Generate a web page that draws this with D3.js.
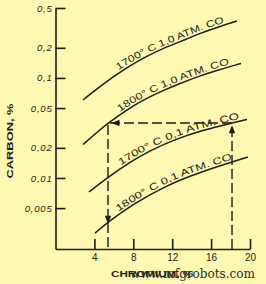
<!DOCTYPE html>
<html><head><meta charset="utf-8">
<script src="https://cdn.jsdelivr.net/npm/d3@7"></script>
<style>html,body{margin:0;padding:0;background:#fdf8b2;} svg{display:block;}</style>
</head><body><svg id="c" width="266" height="284"></svg>
<script>
// ---- data ----
const chromiumTicks = [4, 8, 12, 16, 20];
const carbonTicks = [0.5, 0.2, 0.1, 0.05, 0.02, 0.01, 0.005];
const carbonTickLabels = ["0,5", "0,2", "0,1", "0,05", "0,02", "0,01", "0,005"];
const seriesNames = ["1700° C 1,0 ATM. CO", "1800° C 1,0 ATM. CO", "1700° C 0,1 ATM. CO", "1800° C 0,1 ATM. CO"];
const cr1700_10 = [2.83, 4.37, 5.91, 7.66, 9.41, 11.05, 12.80, 14.65, 16.71, 18.66];
const c1700_10  = [0.0602, 0.0793, 0.1022, 0.1331, 0.1657, 0.1969, 0.2297, 0.2748, 0.3229, 0.3707];
const cr1800_10 = [2.83, 4.37, 5.40, 7.66, 9.41, 11.05, 12.80, 14.65, 16.71, 19.07];
const c1800_10  = [0.0216, 0.0292, 0.0354, 0.0506, 0.0630, 0.0749, 0.0880, 0.1033, 0.1201, 0.1394];
const cr1700_01 = [3.44, 5.40, 7.66, 9.72, 12.29, 14.86, 18.15, 19.69];
const c1700_01  = [0.00724, 0.01016, 0.01445, 0.01883, 0.02425, 0.02949, 0.0354, 0.03842];
const cr1800_01 = [4.06, 5.40, 7.97, 11.47, 14.86, 19.79];
const c1800_01  = [0.00281, 0.00362, 0.00548, 0.00849, 0.01146, 0.01618];
// worked example (dashed guide): chromium %, carbon %
const guideCr = [18.15, 18.15, 5.40, 5.40];
const guideC  = [0.00195, 0.0354, 0.0354, 0.00195];
const arrowCr = [5.75, 18.15, 5.40];
const arrowC  = [0.0354, 0.0337, 0.00348];
const arrowDir = ["left", "up", "down"];

// ---- chart ----
const ink = "#1e1c16";
const sans = "'Liberation Sans', Arial, sans-serif";
const svg = d3.select("#c");
const x = d3.scaleLinear().domain([0, 20]).range([55.5, 250]);
const y = d3.scaleLog().domain([0.00195, 0.5]).range([249, 8]);

const yAxis = d3.axisLeft(y).tickValues(carbonTicks)
  .tickFormat((d, i) => carbonTickLabels[i]).tickSize(-10).tickSizeOuter(0).tickPadding(3);
const gy = svg.append("g").attr("transform", `translate(${x(0)},0)`).call(yAxis);
const xAxis = d3.axisBottom(x).tickValues(chromiumTicks).tickSize(-10).tickSizeOuter(0).tickPadding(5);
const gx = svg.append("g").attr("transform", `translate(0,${y(0.00195)})`).call(xAxis);
[gy, gx].forEach(g => {
  g.selectAll("path,line").attr("stroke", ink).attr("stroke-width", 1.6);
  g.selectAll("text").attr("fill", ink).attr("font-family", sans).attr("font-size", 10);
});
gy.selectAll("text").attr("font-style", "italic").attr("font-size", 9.5).attr("letter-spacing", 0.8);

// axis titles
svg.append("text").attr("transform", "translate(13,141) rotate(-90)").attr("text-anchor", "middle")
  .attr("font-family", sans).attr("font-weight", "bold").attr("font-size", 9)
  .attr("fill", ink).attr("textLength", 75).attr("lengthAdjust", "spacingAndGlyphs").text("CARBON, %");
svg.append("text").attr("x", 152).attr("y", 277).attr("text-anchor", "middle")
  .attr("font-family", sans).attr("font-weight", "bold").attr("font-size", 9.5)
  .attr("fill", ink).attr("textLength", 82).attr("lengthAdjust", "spacingAndGlyphs").text("CHROMIUM, %");

// curves
const series = [[cr1700_10, c1700_10], [cr1800_10, c1800_10], [cr1700_01, c1700_01], [cr1800_01, c1800_01]];
const labelFrom = [6.63, 6.74, 6.84, 6.63];
const labelTo = [17.43, 17.94, 18.98, 18.25];
const line = d3.line().x(d => x(d[0])).y(d => y(d[1])).curve(d3.curveBasis);
series.forEach((s, i) => {
  const pts = s[0].map((v, k) => [v, s[1][k]]);
  const p = svg.append("path").attr("id", "s" + i).attr("d", line(pts))
    .attr("fill", "none").attr("stroke", ink).attr("stroke-width", 1.5);
  const node = p.node(), L = node.getTotalLength();
  const lenAt = px => { let lo = 0, hi = L; for (let k = 0; k < 30; k++) { const m = (lo + hi) / 2; if (node.getPointAtLength(m).x < px) lo = m; else hi = m; } return lo; };
  const a = lenAt(x(labelFrom[i])), b = lenAt(x(labelTo[i]));
  svg.append("text").attr("dy", -2.4).style("font-family", sans)
    .style("font-size", "9.5px").attr("fill", ink)
    .append("textPath").attr("href", "#s" + i).attr("startOffset", a).style("font-family", sans)
    .attr("textLength", b - a).attr("lengthAdjust", "spacingAndGlyphs").text(seriesNames[i]);
});

// dashed guide
const gpts = guideCr.map((v, k) => [v, guideC[k]]);
svg.append("path").attr("d", d3.line().x(d => x(d[0])).y(d => y(d[1]))(gpts))
  .attr("fill", "none").attr("stroke", ink).attr("stroke-width", 1.4).attr("stroke-dasharray", "10,4");

// arrows
const shapes = { left: "M0,0L8,-3.2L8,3.2Z", up: "M0,0L-3.2,8L3.2,8Z", down: "M0,0L-3.2,-8L3.2,-8Z" };
arrowCr.forEach((v, k) => {
  svg.append("path").attr("transform", `translate(${x(v)},${y(arrowC[k])})`)
    .attr("d", shapes[arrowDir[k]]).attr("fill", ink);
});

// watermark
svg.append("text").attr("x", 130).attr("y", 278).attr("font-family", "'DejaVu Serif', serif").attr("font-size", 12)
  .attr("fill", "#2a2a2a").attr("textLength", 125).attr("lengthAdjust", "spacingAndGlyphs").text("www.mfgrobots.com");
</script></body></html>
